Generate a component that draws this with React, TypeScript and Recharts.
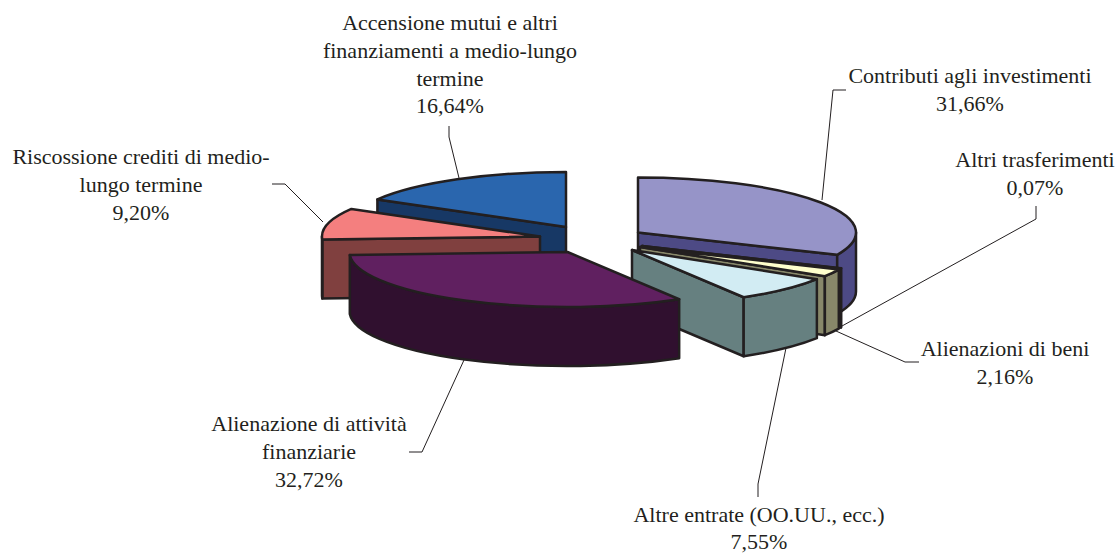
import React from 'react';
import { PieChart, Pie } from 'recharts';

const sliceNames = [
  'Contributi agli investimenti',
  'Altri trasferimenti',
  'Alienazioni di beni',
  'Altre entrate (OO.UU., ecc.)',
  'Alienazione di attività finanziarie',
  'Riscossione crediti di medio-lungo termine',
  'Accensione mutui e altri finanziamenti a medio-lungo termine',
];
const sliceValues = [31.66, 0.07, 2.16, 7.55, 32.72, 9.2, 16.64];

const labelLines = [
  ['Contributi agli investimenti'],
  ['Altri trasferimenti'],
  ['Alienazioni di beni'],
  ['Altre entrate (OO.UU., ecc.)'],
  ['Alienazione di attività', 'finanziarie'],
  ['Riscossione crediti di medio-', 'lungo termine'],
  ['Accensione mutui e altri', 'finanziamenti a medio-lungo', 'termine'],
];

// back to front, the slices overlap each other
const drawOrder = [6, 5, 0, 1, 2, 3, 4];

const topColors = ['#9694c8', '#ffffcc', '#ffffcc', '#d2ecf3', '#602060', '#f47f7f', '#2a66ae'];
const wallColors = ['#4d4a85', '#231f20', '#88886a', '#668080', '#30102f', '#80403f', '#173865'];
const explode = [
  [38, -10.5],
  [42, 3],
  [40, 4],
  [32, 7],
  [-32.5, 9],
  [-60, -6.5],
  [-34, -16],
];

const labelPos = [
  [970, 83],
  [1035, 167],
  [1005, 356],
  [759, 521.5],
  [309, 431],
  [141, 164],
  [450, 30],
];
const leaders = [
  '846,90 833,90 822,200',
  '1036,206 1036,219 842,326',
  '919,362 905,362 836,331',
  '758,497 758,484 786,348',
  '409,452 422,452 464,360',
  '272,184 285,184 323,222',
  '449,126 449,137 459,178',
];

const CX = 600;
const CY = 243;
const RX = 218;
const RY = 55;
const DEPTH = 59;
const INK = '#231f20';

const tableData = sliceNames.map((name, i) => ({ name, value: sliceValues[i] }));

const SliceShape = (props: any, layer: number) => {
  const idx = sliceNames.indexOf(props.name);
  if (idx !== layer) return <g />;
  const { cx, cy, startAngle, endAngle } = props;
  const ox = cx + explode[idx][0];
  const oy = cy + explode[idx][1];
  const s = 90 - startAngle;
  const e = 90 - endAngle;
  const pt = (clock: number, drop = 0) => {
    const r = (clock * Math.PI) / 180;
    return [ox + RX * Math.sin(r), oy - RY * Math.cos(r) + drop];
  };
  const wallStyle = { fill: wallColors[idx], stroke: INK, strokeWidth: 2.5, strokeLinejoin: 'round' as const };
  const cutWall = (clock: number) => {
    const a = pt(clock);
    const b = pt(clock, DEPTH);
    return (
      <path d={`M${ox},${oy} L${a[0]},${a[1]} L${b[0]},${b[1]} L${ox},${oy + DEPTH} Z`} {...wallStyle} />
    );
  };
  const lo = Math.max(s, 90);
  const hi = Math.min(e, 270);
  let outer = null;
  if (lo < hi) {
    const a = pt(lo);
    const b = pt(hi);
    const c = pt(hi, DEPTH);
    const d = pt(lo, DEPTH);
    outer = (
      <path
        d={`M${a[0]},${a[1]} A${RX},${RY} 0 0 1 ${b[0]},${b[1]} L${c[0]},${c[1]} A${RX},${RY} 0 0 0 ${d[0]},${d[1]} Z`}
        {...wallStyle}
      />
    );
  }
  const a = pt(s);
  const b = pt(e);
  const large = e - s > 180 ? 1 : 0;
  return (
    <g>
      {Math.sin((s * Math.PI) / 180) < -0.001 && cutWall(s)}
      {Math.sin((e * Math.PI) / 180) > 0.001 && cutWall(e)}
      {outer}
      <path
        d={`M${ox},${oy} L${a[0]},${a[1]} A${RX},${RY} 0 ${large} 1 ${b[0]},${b[1]} Z`}
        fill={topColors[idx]}
        stroke={INK}
        strokeWidth={2.5}
        strokeLinejoin="round"
      />
    </g>
  );
};

const SliceLabel = (props: any) => {
  const i = props.index;
  const lines = [...labelLines[i], `${sliceValues[i].toFixed(2).replace('.', ',')}%`];
  return (
    <g>
      <polyline points={leaders[i]} fill="none" stroke={INK} strokeWidth={1} />
      {lines.map((t, n) => (
        <text
          key={n}
          x={labelPos[i][0]}
          y={labelPos[i][1] + n * 27.8}
          textAnchor="middle"
          fontFamily="'Liberation Serif', serif"
          fontSize={22}
          fill={INK}
        >
          {t}
        </text>
      ))}
    </g>
  );
};

export default function App() {
  return (
    <div style={{ position: 'absolute', left: 0, top: 0, width: 1117, height: 554, background: '#fff' }}>
      <PieChart width={1117} height={554} margin={{ top: 0, right: 0, bottom: 0, left: 0 }}>
        {drawOrder.map((layer, n) => (
          <Pie
            key={layer}
            data={tableData}
            dataKey="value"
            nameKey="name"
            cx={CX}
            cy={CY}
            outerRadius={RX}
            startAngle={90}
            endAngle={-270}
            stroke="none"
            isAnimationActive={false}
            shape={(p: any) => SliceShape(p, layer)}
            labelLine={false}
            label={n === drawOrder.length - 1 ? SliceLabel : false}
          />
        ))}
      </PieChart>
    </div>
  );
}
